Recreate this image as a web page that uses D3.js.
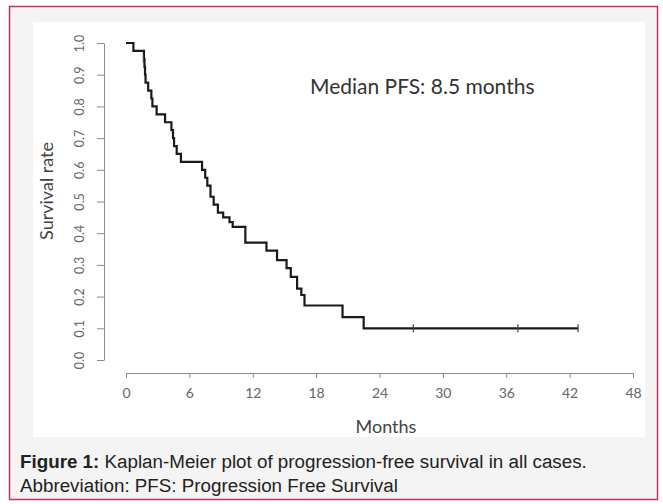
<!DOCTYPE html>
<html><head><meta charset="utf-8">
<script src="https://cdn.jsdelivr.net/npm/d3@7"></script>
<style>
html,body{margin:0;padding:0;background:#fff;}
svg{display:block;}
</style></head>
<body>
<svg id="c" width="663" height="504"></svg>
<script>
// Kaplan-Meier step data: time (months) at which survival changes, and new survival
const stepTimes = [0, 0.7, 1.7, 1.75, 1.8, 1.85, 2.1, 2.4, 2.5, 2.9, 3.7, 4.3, 4.45, 4.55, 4.8, 5.2,
  7.2, 7.5, 7.7, 8.0, 8.3, 8.7, 9.2, 9.8, 10.1, 11.3, 13.3, 14.3, 15.2, 15.6, 16.2, 16.6, 16.9, 20.5, 22.5, 42.8];
const survival  = [1.0, 0.975, 0.95, 0.925, 0.9, 0.875, 0.85, 0.825, 0.80, 0.775, 0.75, 0.725, 0.70, 0.675, 0.65, 0.625,
  0.60, 0.575, 0.55, 0.515, 0.49, 0.465, 0.45, 0.435, 0.42, 0.37, 0.345, 0.315, 0.29, 0.262, 0.225, 0.205, 0.172, 0.135, 0.10, 0.10];
const censorTimes = [1.65, 27.2, 37.1, 42.8];
const censorSurv  = [0.95, 0.10, 0.10, 0.10];
const xTicks = [0, 6, 12, 18, 24, 30, 36, 42, 48];
const yTicks = [0.0, 0.1, 0.2, 0.3, 0.4, 0.5, 0.6, 0.7, 0.8, 0.9, 1.0];
const medianText = "Median PFS: 8.5 months";
const captionBold = "Figure 1:";
const captionLine1 = " Kaplan-Meier plot of progression-free survival in all cases.";
const captionLine2 = "Abbreviation: PFS: Progression Free Survival";

const svg = d3.select("#c");
// frame
svg.append("rect").attr("x",9.5).attr("y",6.5).attr("width",648).attr("height",493)
  .attr("fill","#f4f4f4").attr("stroke","#c9305e").attr("stroke-width",1.5);
svg.append("rect").attr("x",33).attr("y",22).attr("width",612).attr("height",415).attr("fill","#fff");

const x = d3.scaleLinear().domain([0,48]).range([126,633]);
const y = d3.scaleLinear().domain([0,1]).range([360,43]);
const axisFont = "Lato, 'Open Sans', sans-serif";

// y axis
const ya = svg.append("g").attr("transform","translate(104,0)")
  .call(d3.axisLeft(y).tickValues(yTicks).tickSize(7).tickSizeOuter(0).tickFormat(d3.format(".1f")));
ya.select(".domain").attr("stroke","#8a8a8a");
ya.selectAll(".tick line").attr("stroke","#8a8a8a");
ya.selectAll(".tick text").attr("fill","#666").attr("font-family",axisFont).attr("font-size",12.5)
  .attr("text-anchor","middle").attr("dy","0.35em")
  .attr("transform","translate(-24,0) rotate(-90)").attr("x",0).attr("y",0);

// x axis
const xa = svg.append("g").attr("transform","translate(0,373)")
  .call(d3.axisBottom(x).tickValues(xTicks).tickSize(5).tickSizeOuter(0));
xa.select(".domain").attr("stroke","#8a8a8a");
xa.selectAll(".tick line").attr("stroke","#8a8a8a");
xa.selectAll(".tick text").attr("fill","#666").attr("font-family",axisFont).attr("font-size",14).attr("y",15);

// axis titles
svg.append("text").attr("transform","translate(53,191) rotate(-90)").attr("text-anchor","middle")
  .attr("font-family",axisFont).attr("font-size",18).attr("fill","#444").text("Survival rate");
svg.append("text").attr("x",386).attr("y",433).attr("text-anchor","middle")
  .attr("font-family",axisFont).attr("font-size",18).attr("fill","#444").text("Months");

// KM curve
const pts = stepTimes.map((t,i)=>[t, survival[i]]);
const line = d3.line().x(d=>x(d[0])).y(d=>y(d[1])).curve(d3.curveStepAfter);
svg.append("path").attr("d",line(pts)).attr("fill","none").attr("stroke","#1a1a1a").attr("stroke-width",2.2);

// censor marks
svg.selectAll(".cens").data(censorTimes.map((t,i)=>[t,censorSurv[i]])).enter().append("line")
  .attr("x1",d=>x(d[0])).attr("x2",d=>x(d[0])).attr("y1",d=>y(d[1])-4).attr("y2",d=>y(d[1])+4)
  .attr("stroke","#444").attr("stroke-width",1.2);

// median annotation
svg.append("text").attr("x",310).attr("y",94).attr("font-family",axisFont).attr("font-size",21)
  .attr("fill","#333").text(medianText);

// caption
const cap = svg.append("text").attr("x",20).attr("y",468).attr("font-family","'Liberation Sans', Arial, sans-serif")
  .attr("font-size",18.8).attr("fill","#222");
cap.append("tspan").attr("font-weight","bold").text(captionBold);
cap.append("tspan").text(captionLine1);
svg.append("text").attr("x",20).attr("y",492).attr("font-family","'Liberation Sans', Arial, sans-serif")
  .attr("font-size",18.8).attr("fill","#222").text(captionLine2);
</script>
</body></html>
